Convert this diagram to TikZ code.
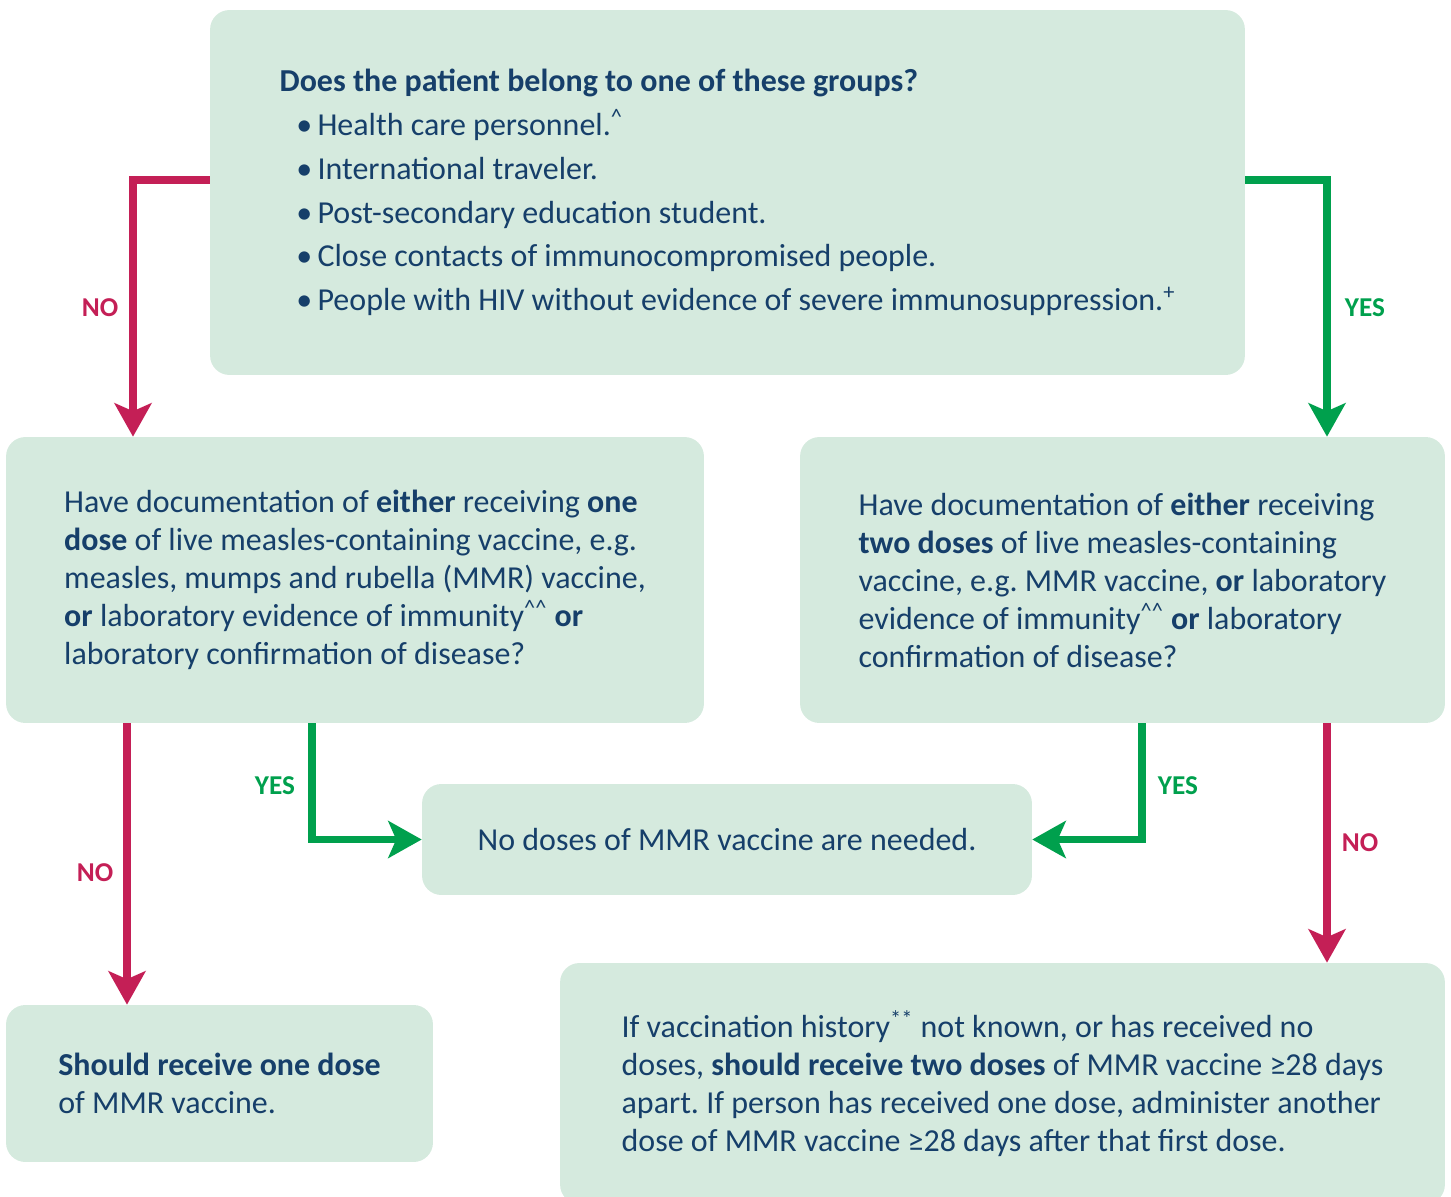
\documentclass[tikz,border=0pt]{standalone}
\usepackage{fontspec}
\setmainfont{Carlito}
\usepackage{tikz}
\usetikzlibrary{arrows.meta}
\definecolor{boxfill}{HTML}{D5EADE}
\definecolor{ink}{HTML}{163F6A}
\definecolor{nored}{HTML}{C41F56}
\definecolor{yesgreen}{HTML}{00A04D}
\frenchspacing
\newcommand\flowfont{\fontsize{18.2pt}{21.6pt}\selectfont}
\newcommand\grpitem{\hspace*{9.5pt}\makebox[12.1pt][l]{\textbullet}}
\newcommand\fnmark[1]{\textsuperscript{#1}}
\tikzset{
  box/.style={fill=boxfill, rounded corners=11pt, inner sep=0pt, align=left, text=ink, font=\flowfont},
  flow/.style={line width=4pt, -{Stealth[length=19pt, width=21pt, inset=4.5pt]}},
  nopath/.style={flow, draw=nored},
  yespath/.style={flow, draw=yesgreen},
  nolab/.style={text=nored, font=\fontsize{15.5pt}{17pt}\selectfont\bfseries},
  yeslab/.style={text=yesgreen, font=\fontsize{15.5pt}{17pt}\selectfont\bfseries},
}
\begin{document}
\begin{tikzpicture}[x=0.02cm, y=-0.02cm]
  \useasboundingbox (0,0) rectangle (1451,1197);

  % question boxes
  \node[box, minimum width=20.7cm, minimum height=7.3cm,
        font=\fontsize{18.2pt}{24.9pt}\selectfont] (groups) at (727.5,192.5)
    {\textbf{Does the patient belong to one of these groups?}\\
     \grpitem Health care personnel.\fnmark{\textasciicircum}\\
     \grpitem International traveler.\\
     \grpitem Post-secondary education student.\\
     \grpitem Close contacts of immunocompromised people.\\
     \grpitem People with HIV without evidence of severe immunosuppression.\fnmark{+}};
  \node[box, minimum width=13.96cm, minimum height=5.72cm] (onedose) at (355,580)
    {Have documentation of \textbf{either} receiving \textbf{one}\\
     \textbf{dose} of live measles-containing vaccine, e.g.\\
     measles, mumps and rubella (MMR) vaccine,\\
     \textbf{or} laboratory evidence of immunity\fnmark{\textasciicircum\textasciicircum} \textbf{or}\\
     laboratory confirmation of disease?};
  \node[box, minimum width=12.9cm, minimum height=5.72cm] (twodose) at (1122.5,580)
    {Have documentation of \textbf{either} receiving\\
     \textbf{two doses} of live measles-containing\\
     vaccine, e.g. MMR vaccine, \textbf{or} laboratory\\
     evidence of immunity\fnmark{\textasciicircum\textasciicircum} \textbf{or} laboratory\\
     confirmation of disease?};

  % outcomes
  \node[box, minimum width=12.2cm, minimum height=2.22cm] (clear) at (727,839.5)
    {No doses of MMR vaccine are needed.};
  \node[box, minimum width=8.54cm, minimum height=3.14cm] (onedoseres) at (219.5,1083.5)
    {\textbf{Should receive one dose}\\
     of MMR vaccine.};
  \node[box, minimum width=17.7cm, minimum height=4.82cm] (twodoseres) at (1002.5,1083.5)
    {If vaccination history\fnmark{**} not known, or has received no\\
     doses, \textbf{should receive two doses} of MMR vaccine ≥28 days\\
     apart. If person has received one dose, administer another\\
     dose of MMR vaccine ≥28 days after that first dose.};

  % bends of the connectors
  \coordinate (noTop) at (133,180);
  \coordinate (yesTop) at (1327,180);
  \coordinate (noLeft) at (127,0);
  \coordinate (yesLeft) at (312,0);
  \coordinate (yesRight) at (1142,0);
  \coordinate (noRight) at (1327,0);

  \draw[nopath] (groups.west |- noTop) -- (noTop) -- (onedose.north -| noTop);
  \draw[yespath] (groups.east |- yesTop) -- (yesTop) -- (twodose.north -| yesTop);
  \draw[nopath] (onedose.south -| noLeft) -- (onedoseres.north -| noLeft);
  \draw[yespath] (onedose.south -| yesLeft) |- (clear.west);
  \draw[yespath] (twodose.south -| yesRight) |- (clear.east);
  \draw[nopath] (twodose.south -| noRight) -- (twodoseres.north -| noRight);

  \node[nolab] (noA) at (100,308) {NO};
  \node[yeslab] (yesA) at (1365,308) {YES};
  \node[nolab] (noB) at (95,873) {NO};
  \node[yeslab] (yesB) at (275,786) {YES};
  \node[yeslab] (yesC) at (1178,786) {YES};
  \node[nolab] (noC) at (1360,843) {NO};
\end{tikzpicture}
\end{document}
